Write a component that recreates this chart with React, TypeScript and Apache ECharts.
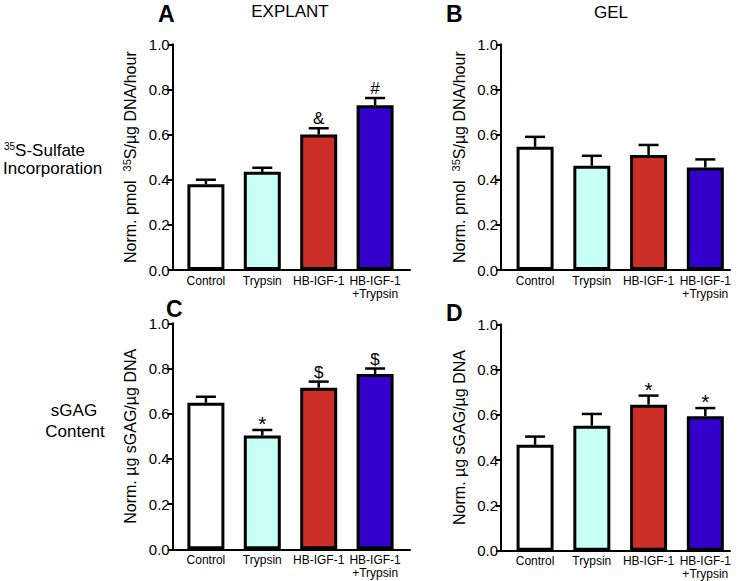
import React, { useEffect, useRef } from "react";
import * as echarts from "echarts";

const categories = ["Control", "Trypsin", "HB-IGF-1", "HB-IGF-1\n+Trypsin"];
const barColors = ["#ffffff", "#c8fff6", "#cc2e28", "#3300cc"];

const explantSulfateMean = [0.38, 0.435, 0.6, 0.73];
const explantSulfateErr = [0.02, 0.018, 0.028, 0.032];
const explantSulfateMarks = ["", "", "&", "#"];

const gelSulfateMean = [0.546, 0.462, 0.51, 0.454];
const gelSulfateErr = [0.044, 0.044, 0.044, 0.036];
const gelSulfateMarks = ["", "", "", ""];

const explantGagMean = [0.649, 0.503, 0.715, 0.776];
const explantGagErr = [0.026, 0.025, 0.027, 0.024];
const explantGagMarks = ["", "*", "$", "$"];

const gelGagMean = [0.468, 0.552, 0.645, 0.594];
const gelGagErr = [0.036, 0.052, 0.04, 0.036];
const gelGagMarks = ["", "", "*", "*"];

const FONT = "'Liberation Sans', Arial, Helvetica, sans-serif";

const sulfateName = "{a|Norm. pmol  }{s|35}{a|S/µg DNA/hour}";
const gagName = "{a|Norm. µg sGAG/µg DNA}";

type Panel = {
  axisX: number;
  xEnd: number;
  top: number;
  bottom: number;
  dataLeft: number;
  dataWidth: number;
  name: string;
  mean: number[];
  err: number[];
  marks: string[];
};

const panels: Panel[] = [
  { axisX: 172.7, xEnd: 410, top: 44.3, bottom: 270, dataLeft: 177.7, dataWidth: 225.6, name: sulfateName, mean: explantSulfateMean, err: explantSulfateErr, marks: explantSulfateMarks },
  { axisX: 501, xEnd: 730, top: 44.3, bottom: 270, dataLeft: 506.7, dataWidth: 227, name: sulfateName, mean: gelSulfateMean, err: gelSulfateErr, marks: gelSulfateMarks },
  { axisX: 172.7, xEnd: 410, top: 323.3, bottom: 549.3, dataLeft: 177.7, dataWidth: 225.6, name: gagName, mean: explantGagMean, err: explantGagErr, marks: explantGagMarks },
  { axisX: 501, xEnd: 730, top: 324.3, bottom: 550.7, dataLeft: 506.7, dataWidth: 227, name: gagName, mean: gelGagMean, err: gelGagErr, marks: gelGagMarks },
];

function buildOption() {
  const grid: any[] = [];
  const xAxis: any[] = [];
  const yAxis: any[] = [];
  const series: any[] = [];

  panels.forEach((p) => {
    grid.push({ left: p.axisX, top: p.top, width: p.xEnd - p.axisX, height: p.bottom - p.top, containLabel: false });
  });
  panels.forEach((p) => {
    grid.push({ left: p.dataLeft, top: p.top, width: p.dataWidth, height: p.bottom - p.top, containLabel: false });
  });

  panels.forEach((p, i) => {
    xAxis.push({
      type: "value", gridIndex: i, min: 0, max: 1,
      axisLine: { show: true, lineStyle: { color: "#000", width: 2 } },
      axisTick: { show: false }, axisLabel: { show: false }, splitLine: { show: false },
    });
    yAxis.push({
      type: "value", gridIndex: i, min: 0, max: 1, interval: 0.2,
      axisLine: { show: true, lineStyle: { color: "#000", width: 2 } },
      axisTick: { show: true, inside: false, length: 5, lineStyle: { color: "#000", width: 2 } },
      axisLabel: { show: true, margin: 3, color: "#000", fontSize: 15, fontFamily: FONT, formatter: (v: number) => v.toFixed(1) },
      splitLine: { show: false },
      name: p.name,
      nameLocation: "middle",
      nameGap: 33,
      nameTextStyle: {
        color: "#000", fontFamily: FONT, fontSize: 16,
        rich: {
          a: { fontSize: 16, lineHeight: 18, color: "#000", fontFamily: FONT },
          s: { fontSize: 11, lineHeight: 11, verticalAlign: "top", color: "#000", fontFamily: FONT },
        },
      },
    });
  });

  panels.forEach((p, i) => {
    const gi = 4 + i;
    xAxis.push({
      type: "category", gridIndex: gi, data: categories, boundaryGap: true,
      axisLine: { show: false }, axisTick: { show: false },
      axisLabel: { show: true, interval: 0, margin: 4, color: "#000", fontSize: 12, lineHeight: 13, fontFamily: FONT },
    });
    yAxis.push({ type: "value", gridIndex: gi, min: 0, max: 1, show: false });

    series.push({
      type: "bar", xAxisIndex: gi, yAxisIndex: gi, barWidth: 37,
      data: p.mean.map((v, k) => ({ value: v, itemStyle: { color: barColors[k] } })),
      itemStyle: { borderColor: "#000", borderWidth: 3 },
      z: 2,
    });

    const marks = p.marks;
    series.push({
      type: "custom", xAxisIndex: gi, yAxisIndex: gi, z: 3,
      data: p.mean.map((v, k) => [k, v, v + p.err[k]]),
      renderItem: (params: any, api: any) => {
        const base = api.coord([api.value(0), api.value(1)]);
        const top = api.coord([api.value(0), api.value(2)]);
        const children: any[] = [
          { type: "line", shape: { x1: base[0], y1: base[1], x2: top[0], y2: top[1] }, style: { stroke: "#000", lineWidth: 2.5 } },
          { type: "line", shape: { x1: top[0] - 10, y1: top[1], x2: top[0] + 10, y2: top[1] }, style: { stroke: "#000", lineWidth: 2.5 } },
        ];
        const m = marks[params.dataIndex];
        if (m) {
          const isStar = m === "*";
          children.push({
            type: "text",
            style: {
              text: m, x: top[0], y: top[1] + (isStar ? 4 : -1), align: "center", verticalAlign: "bottom",
              fill: "#000", font: `${isStar ? 21 : 17}px ${FONT}`,
            },
          });
        }
        return { type: "group", children };
      },
    });
  });

  const graphic: any[] = [
    { type: "text", style: { text: "A", x: 158, y: 2, fill: "#000", font: `bold 23px ${FONT}` } },
    { type: "text", style: { text: "B", x: 446, y: 2, fill: "#000", font: `bold 23px ${FONT}` } },
    { type: "text", style: { text: "C", x: 166, y: 297, fill: "#000", font: `bold 23px ${FONT}` } },
    { type: "text", style: { text: "D", x: 446, y: 301, fill: "#000", font: `bold 23px ${FONT}` } },
    { type: "text", style: { text: "EXPLANT", x: 290, y: 11, align: "center", verticalAlign: "middle", fill: "#000", font: `17px ${FONT}` } },
    { type: "text", style: { text: "GEL", x: 611, y: 12, align: "center", verticalAlign: "middle", fill: "#000", font: `17px ${FONT}` } },
    {
      type: "text",
      style: {
        text: "{s|35}{a|S-Sulfate}",
        x: 4, y: 150, align: "left", verticalAlign: "middle", fill: "#000",
        rich: {
          a: { fontSize: 17, lineHeight: 17, fontFamily: FONT, fill: "#000" },
          s: { fontSize: 10, lineHeight: 10, verticalAlign: "top", fontFamily: FONT, fill: "#000" },
        },
      },
    },
    { type: "text", style: { text: "Incorporation", x: 3, y: 168, align: "left", verticalAlign: "middle", fill: "#000", font: `17px ${FONT}` } },
    { type: "text", style: { text: "sGAG", x: 74, y: 410, align: "center", verticalAlign: "middle", fill: "#000", font: `17px ${FONT}` } },
    { type: "text", style: { text: "Content", x: 75, y: 431, align: "center", verticalAlign: "middle", fill: "#000", font: `17px ${FONT}` } },
  ];

  return { animation: false, backgroundColor: "#ffffff", grid, xAxis, yAxis, series, graphic };
}

export default function App() {
  const ref = useRef<HTMLDivElement | null>(null);
  useEffect(() => {
    if (!ref.current) return;
    const chart = echarts.init(ref.current, undefined, { renderer: "svg" });
    chart.setOption(buildOption() as any);
    return () => chart.dispose();
  }, []);
  return <div ref={ref} style={{ position: "fixed", left: 0, top: 0, width: 750, height: 581, background: "#fff" }} />;
}
